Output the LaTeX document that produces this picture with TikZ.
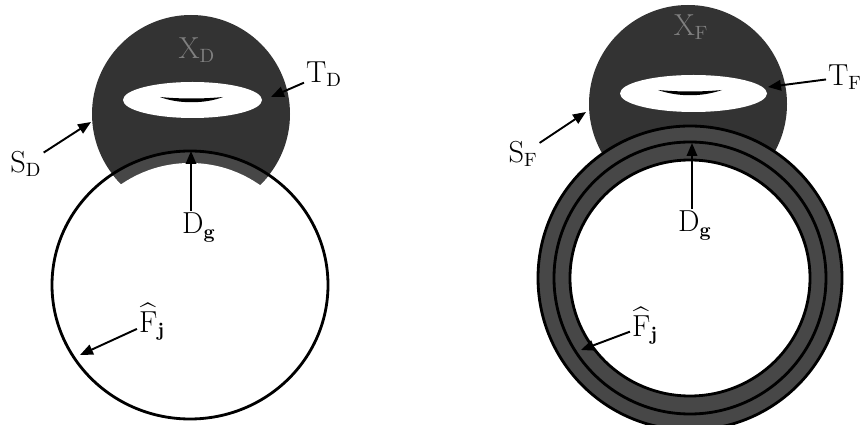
\documentclass[tikz,border=0pt]{standalone}
\usepackage{amsmath,amssymb}
\usepackage{xcolor}
\usetikzlibrary{arrows.meta}

\begin{document}
\begin{tikzpicture}[
  x=0.02cm, y=-0.02cm,
  lbl/.style={inner sep=1pt,font=\fontsize{16}{19}\selectfont},
  inlbl/.style={lbl,text=black!50},
  arr/.style={-{Triangle[length=2.6mm,width=2.1mm]},line width=1.1pt},
  disc/.style={fill=black!80},
  band/.style={fill=black!72},
  rim/.style={draw=black,line width=1.6pt}
]
\clip (0,0) rectangle (866,425);

% left: disc S_D sitting on the sphere F_j
\fill[disc] (191,114) circle [radius=99];
\begin{scope}
  \clip (191,114) circle [radius=99];
  \fill[band] (190,285) ellipse [x radius=138,y radius=134];
\end{scope}
\fill[white] (190,285) ellipse [x radius=122,y radius=122];
\draw[rim] (190,285) ellipse [x radius=138,y radius=134];
\fill[white] (192.5,100) ellipse [x radius=69.5,y radius=18];
\fill (160,97) .. controls (180,99) and (203,99) .. (223,97)
  .. controls (205,104) and (178,104) .. (160,97);

% right: disc S_F sitting on the thick shell
\fill[disc] (688,104) circle [radius=99];
\fill[band,rim] (690,278) ellipse [x radius=152,y radius=152];
\draw[rim] (690,278) ellipse [x radius=136,y radius=136];
\filldraw[fill=white,rim] (690,278) ellipse [x radius=120,y radius=118];
\fill[white] (693.5,93.5) ellipse [x radius=73.5,y radius=18.5];
\fill (658,90) .. controls (680,92) and (700,92) .. (722,90)
  .. controls (702,97) and (678,97) .. (658,90);

% labels, left
\node[inlbl] (xd) at (197,50) {$\mathrm{X}_{\mathrm{D}}$};
\node[lbl] (sd) at (26,164) {$\mathrm{S}_{\mathrm{D}}$};
\node[lbl] (td) at (324,74) {$\mathrm{T}_{\mathrm{D}}$};
\node[lbl,anchor=north west] (dgl) at (180,211) {$\mathrm{D}_{\mathbf{g}}$};
\node[lbl] (fjl) at (152,322) {$\widehat{\mathrm{F}}_{\mathbf{j}}$};
\coordinate (sdtip) at (91,122);
\coordinate (tdtip) at (271,97);
\coordinate (dgltip) at (191,151);
\coordinate (fjltip) at (80,355);
\draw[arr] (sd) -- (sdtip);
\draw[arr] (td) -- (tdtip);
\draw[arr] (dgl.north -| dgltip) -- (dgltip);
\draw[arr] (fjl) -- (fjltip);

% labels, right
\node[inlbl] (xf) at (691,27) {$\mathrm{X}_{\mathrm{F}}$};
\node[lbl] (sf) at (523,154) {$\mathrm{S}_{\mathrm{F}}$};
\node[lbl] (tf) at (845,77) {$\mathrm{T}_{\mathrm{F}}$};
\node[lbl,anchor=north west] (dgr) at (676,209) {$\mathrm{D}_{\mathbf{g}}$};
\node[lbl] (fjr) at (645,326) {$\widehat{\mathrm{F}}_{\mathbf{j}}$};
\coordinate (sftip) at (586,112);
\coordinate (tftip) at (768,87);
\coordinate (dgrtip) at (692,143);
\coordinate (fjrtip) at (581,350);
\draw[arr] (sf) -- (sftip);
\draw[arr] (tf) -- (tftip);
\draw[arr] (dgr.north -| dgrtip) -- (dgrtip);
\draw[arr] (fjr) -- (fjrtip);
\end{tikzpicture}
\end{document}
